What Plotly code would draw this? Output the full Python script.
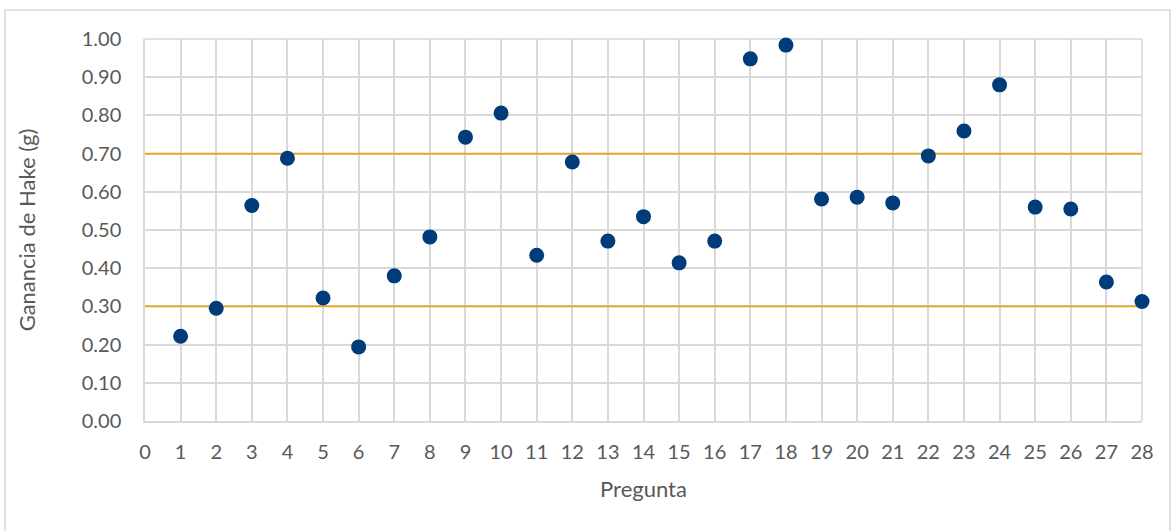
import plotly.graph_objects as go

preguntas = list(range(1, 29))
ganancia = [0.222, 0.295, 0.564, 0.688, 0.322, 0.194, 0.380, 0.482, 0.743, 0.806,
            0.434, 0.678, 0.471, 0.535, 0.414, 0.471, 0.948, 0.984, 0.581, 0.586,
            0.571, 0.694, 0.759, 0.880, 0.560, 0.555, 0.364, 0.313]
limite_alto = 0.70
limite_bajo = 0.30
x_rango = [0, 28]

W, H = 1171, 531
L, R, T, B = 145, 29, 39, 110
pw, ph = W - L - R, H - T - B

fig = go.Figure()
for lim in (limite_alto, limite_bajo):
    fig.add_trace(go.Scatter(x=x_rango, y=[lim, lim], mode="lines",
                             line=dict(color="#E8A317", width=1.6),
                             hoverinfo="skip", showlegend=False))
fig.add_trace(go.Scatter(x=preguntas, y=ganancia, mode="markers",
                         marker=dict(color="#003B7A", size=15),
                         showlegend=False, cliponaxis=False))

font = "Lato, 'Open Sans', sans-serif"
grid = "#D9D9D9"
fig.update_layout(
    width=W, height=H,
    margin=dict(l=L, r=R, t=T, b=B, pad=0, autoexpand=False),
    paper_bgcolor="white", plot_bgcolor="white",
    font=dict(family=font, color="#595959"),
    xaxis=dict(range=[0, 28], dtick=1, tick0=0, showgrid=True, gridcolor=grid,
               gridwidth=1.5, zeroline=False, showline=True, linecolor=grid,
               linewidth=1.5, ticks="", tickfont=dict(size=20, color="#595959"),
               ticklabelstandoff=12, automargin=False,
               title=dict(text="Pregunta", font=dict(size=22, color="#595959"), standoff=20)),
    yaxis=dict(range=[0, 1], dtick=0.1, tick0=0, tickformat=".2f", showgrid=True,
               gridcolor=grid, gridwidth=1.5, zeroline=False, showline=True,
               linecolor=grid, linewidth=1.5, ticks="", automargin=False,
               tickfont=dict(size=20, color="#595959"), ticklabelstandoff=18,
               title=dict(text="Ganancia de Hake (g)", font=dict(size=22, color="#595959"),
                          standoff=40)),
    shapes=[
        dict(type="rect", xref="paper", yref="paper",
             x0=(5 - L) / pw, x1=(1170 - L) / pw,
             y0=(H - B - 540) / ph, y1=(H - B - 10) / ph,
             line=dict(color=grid, width=1.5), fillcolor="rgba(0,0,0,0)", layer="below"),
        dict(type="line", xref="paper", yref="paper", x0=1, x1=1, y0=0, y1=1,
             line=dict(color=grid, width=1.5), layer="below"),
        dict(type="line", xref="paper", yref="paper", x0=0, x1=1, y0=1, y1=1,
             line=dict(color=grid, width=1.5), layer="below"),
    ],
)
fig.write_html("out.html", config={"displayModeBar": False},
               post_script="document.body.style.margin='0';")
